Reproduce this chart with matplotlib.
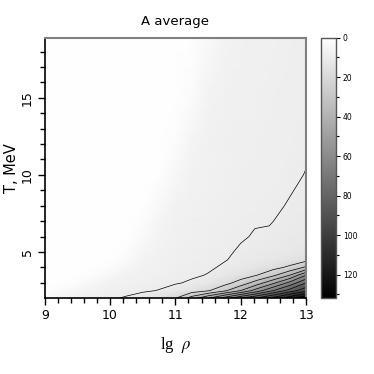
import numpy as np
import matplotlib
matplotlib.use("Agg")
import matplotlib.pyplot as plt

# grid of the field (lg rho columns, T rows)
lg_rho = [9.0, 9.25, 9.5, 9.75, 10.0, 10.25, 10.5, 10.75, 11.0,
          11.25, 11.5, 11.75, 12.0, 12.25, 12.5, 12.75, 13.0]
T_MeV = [2.0, 2.5, 3.0, 3.5, 4.0, 4.5, 5.0, 6.0, 6.5, 6.7, 7.0, 8.0,
         10.0, 12.0, 15.0, 19.0]

# A average, one row per temperature
A_T2 = [2, 6, 7.5, 8.3, 9.3, 10.6, 12.5, 15.5, 20, 35, 50, 65, 80, 92, 105, 118, 131]
A_T2_5 = [1, 2.5, 5, 7, 7.8, 8.5, 9.3, 10.2, 12, 15, 19, 28, 40, 55, 70, 84, 97]
A_T3 = [1, 1, 2, 4.5, 6.8, 7.6, 8.2, 8.8, 9.6, 10.6, 12.5, 16.5, 24, 35, 48, 63, 80]
A_T3_5 = [1, 1, 1, 2, 4.5, 6.8, 7.6, 8.2, 8.8, 9.4, 10.2, 12, 15, 20, 28, 40, 60]
A_T4 = [1, 1, 1, 1, 2, 5, 7, 7.7, 8.3, 8.9, 9.5, 10.5, 12, 14, 17, 22, 32]
A_T4_5 = [1, 1, 1, 1, 1, 3, 6.5, 7.4, 8, 8.6, 9.1, 9.8, 10.8, 11.5, 12.5, 14, 17]
A_T5 = [1, 1, 1, 1, 1, 1.8, 5.5, 7.2, 7.8, 8.3, 8.8, 9.5, 10.4, 10.9, 11.4, 12, 13]
A_T6 = [1, 1, 1, 1, 1, 1, 3, 6.5, 7.4, 8, 8.5, 9, 9.7, 10.3, 10.7, 11.1, 11.5]
A_T6_5 = [1, 1, 1, 1, 1, 1, 2.2, 6, 7.3, 7.9, 8.4, 8.9, 9.45, 10.1, 10.5, 10.9, 11.3]
A_T6_7 = [1, 1, 1, 1, 1, 1, 2, 5.8, 7.3, 7.85, 8.35, 8.85, 9.3, 9.7, 10.1, 10.6, 11.1]
A_T7 = [1, 1, 1, 1, 1, 1, 1.8, 5.5, 7.2, 7.8, 8.3, 8.8, 9.2, 9.6, 10, 10.5, 11]
A_T8 = [1, 1, 1, 1, 1, 1, 1, 4, 6.8, 7.6, 8.1, 8.5, 8.9, 9.2, 9.6, 10.2, 10.7]
A_T10 = [1, 1, 1, 1, 1, 1, 1, 1, 4.5, 6.8, 7.6, 8.1, 8.5, 8.8, 9.1, 9.5, 10.1]
A_T12 = [1, 1, 1, 1, 1, 1, 1, 1, 2, 6, 7.3, 7.9, 8.3, 8.6, 8.9, 9.2, 9.6]
A_T15 = [1, 1, 1, 1, 1, 1, 1, 1, 1, 2.5, 6.2, 7.4, 7.9, 8.2, 8.5, 8.8, 9.1]
A_T19 = [1, 1, 1, 1, 1, 1, 1, 1, 1, 1, 3.5, 6.6, 7.5, 7.9, 8.2, 8.5, 8.8]

contour_levels = [10, 20, 30, 40, 50, 60, 70, 80, 90, 100, 110, 120, 130]
cbar_major = [0, 20, 40, 60, 80, 100, 120]
cbar_minor = [10, 30, 50, 70, 90, 110, 130]
x_ticks = [9, 10, 11, 12, 13]
y_ticks = [5, 10, 15]

A = np.array([A_T2, A_T2_5, A_T3, A_T3_5, A_T4, A_T4_5, A_T5, A_T6, A_T6_5,
              A_T6_7, A_T7, A_T8, A_T10, A_T12, A_T15, A_T19], dtype=float)
X, Y = np.meshgrid(lg_rho, T_MeV)

plt.rcParams['font.family'] = ['DejaVu Sans']
plt.rcParams['mathtext.fontset'] = 'stix'

fig = plt.figure(figsize=(3.74, 3.74), dpi=100)
ax = fig.add_axes([0.1195, 0.2024, 0.699, 0.697])
cax = fig.add_axes([0.858, 0.2024, 0.040, 0.697])

vmin, vmax = 0, 132
mesh = ax.pcolormesh(X, Y, A, shading='gouraud', cmap='gray_r', vmin=vmin, vmax=vmax)
ax.contour(X, Y, A, levels=contour_levels, colors='black', linewidths=0.5)

ax.set_xlim(9, 13)
ax.set_ylim(2, 18.9)
ax.set_xticks(x_ticks)
ax.set_xticks(np.arange(9, 13.01, 0.2), minor=True)
ax.set_yticks(y_ticks)
ax.set_yticks(np.arange(3, 19, 1), minor=True)
ax.tick_params(axis='both', which='major', length=5, width=1, labelsize=9, color='black')
ax.tick_params(axis='both', which='minor', length=3.5, width=1, color='black')
ax.tick_params(axis='x', pad=3)
ax.tick_params(axis='y', pad=3)
for lbl in ax.get_yticklabels():
    lbl.set_rotation(90)
    lbl.set_va('center')

for side in ['left', 'bottom']:
    ax.spines[side].set_color('black')
    ax.spines[side].set_linewidth(1.2)
for side in ['top', 'right']:
    ax.spines[side].set_color('#808080')
    ax.spines[side].set_linewidth(1.5)

ax.set_title('A average', fontsize=9.5, pad=9)
ax.set_ylabel('T, MeV', fontsize=10.5, labelpad=1)
ax.set_xlabel(r'lg  $\rho$', fontsize=12, family='Liberation Serif', labelpad=9)

cb = fig.colorbar(mesh, cax=cax)
cax.invert_yaxis()
cb.set_ticks(cbar_major)
cax.set_yticks(cbar_minor, minor=True)
cax.tick_params(which='major', length=3, width=0.8, labelsize=5.5, pad=2)
cax.tick_params(which='minor', length=2, width=0.8)
cb.outline.set_edgecolor('#555555')
cb.outline.set_linewidth(1.0)

fig.savefig('out.png', dpi=100)
